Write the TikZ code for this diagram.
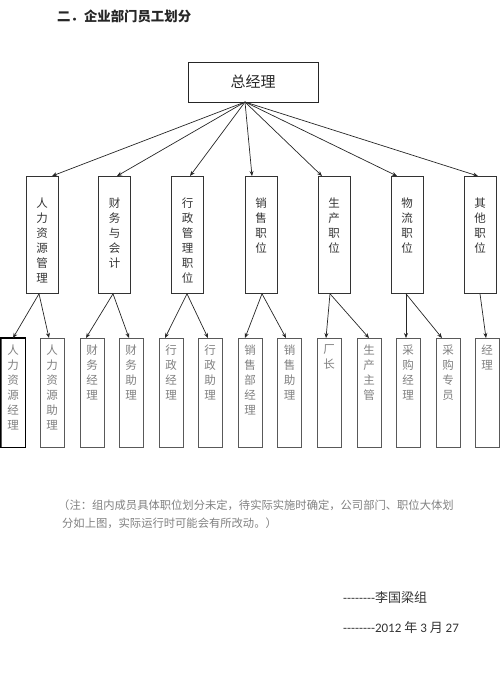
\documentclass[tikz,border=0pt]{standalone}
\usepackage{fontspec}
\setmainfont{Noto Sans CJK SC}
\newfontfamily\carl{Carlito}
\usetikzlibrary{arrows.meta}
\newcommand\dd{-\kern0pt}
\newcommand\ddd{\dd\dd\dd\dd\dd\dd\dd\dd}
\begin{document}
\begin{tikzpicture}[x=1pt,y=-1pt,
  topbox/.style={draw=black!85, line width=0.9pt, minimum width=130pt, minimum height=40pt, inner sep=0pt, font=\fontsize{15}{18}\selectfont, text=black!85},
  midbox/.style={draw=black!80, line width=0.8pt, minimum width=32pt, minimum height=117pt, inner sep=0pt, anchor=north},
  botbox/.style={draw=black!65, line width=0.8pt, minimum width=24pt, minimum height=109pt, inner sep=0pt, anchor=north},
  midtxt/.style={anchor=north, inner sep=0pt, align=center, text=black!80, font=\fontsize{11.5}{15}\selectfont},
  bottxt/.style={anchor=north, inner sep=0pt, align=center, text=black!50, font=\fontsize{11.5}{15}\selectfont},
  arr/.style={-{Stealth[length=5pt,width=4pt]}, line width=0.7pt, draw=black!85},
  notetxt/.style={anchor=west, inner sep=0pt, text=black!50, font=\fontsize{11.3}{14}\selectfont},
  sigtxt/.style={anchor=west, inner sep=0pt, text=black!80, font=\fontsize{13}{15}\selectfont}
]
\useasboundingbox (0,0) rectangle (500,681);

\node[anchor=west, inner sep=0pt, font=\fontsize{13.4}{15}\selectfont\bfseries, text=black!85] (title) at (57,16) {二．企业部门员工划分};

\node[topbox] (top) at (253,82) {总经理};
\coordinate (o) at (245,102);

% middle level
\foreach \i/\x/\t in {1/42/{人\\力\\资\\源\\管\\理},2/114.5/{财\\务\\与\\会\\计},3/187.5/{行\\政\\管\\理\\职\\位},4/261/{销\\售\\职\\位},5/334/{生\\产\\职\\位},6/407/{物\\流\\职\\位},7/480/{其\\他\\职\\位}}{
  \node[midbox] (m\i) at (\x,176) {};
  \node[midtxt] (mt\i) at (\x,197.5) {\t};
}

% bottom level
\foreach \i/\x/\t in {1/13/{人\\力\\资\\源\\经\\理},2/52/{人\\力\\资\\源\\助\\理},3/92/{财\\务\\经\\理},4/131/{财\\务\\助\\理},5/171/{行\\政\\经\\理},6/210/{行\\政\\助\\理},7/250/{销\\售\\部\\经\\理},8/289.5/{销\\售\\助\\理},9/329/{厂\\长},10/369/{生\\产\\主\\管},11/408/{采\\购\\经\\理},12/448/{采\\购\\专\\员},13/487/{经\\理}}{
  \node[botbox] (b\i) at (\x,338) {};
  \node[bottxt] (bt\i) at (\x,344.5) {\t};
}
\draw[black, line width=1.3pt] (b1.north west) rectangle (b1.south east);

% arrows top -> middle
\draw[arr] (o) -- ([xshift=10pt]m1.north);
\draw[arr] (o) -- ([xshift=2.5pt]m2.north);
\draw[arr] (o) -- ([xshift=2.5pt]m3.north);
\draw[arr] (o) -- ([xshift=-9pt]m4.north);
\draw[arr] (o) -- ([xshift=-12pt]m5.north);
\draw[arr] (o) -- ([xshift=-10pt]m6.north);
\draw[arr] (o) -- ([xshift=-2pt]m7.north);

% arrows middle -> bottom
\draw[arr] ([xshift=-3pt]m1.south) -- (b1.north);
\draw[arr] ([xshift=-3pt]m1.south) -- ([xshift=-3pt]b2.north);
\draw[arr] ([xshift=-1.5pt]m2.south) -- ([xshift=-6pt]b3.north);
\draw[arr] ([xshift=-1.5pt]m2.south) -- ([xshift=-2pt]b4.north);
\draw[arr] ([xshift=-0.5pt]m3.south) -- ([xshift=-6pt]b5.north);
\draw[arr] ([xshift=-0.5pt]m3.south) -- ([xshift=-2pt]b6.north);
\draw[arr] ([xshift=1pt]m4.south) -- ([xshift=-5pt]b7.north);
\draw[arr] ([xshift=1pt]m4.south) -- ([xshift=-3.5pt]b8.north);
\draw[arr] ([xshift=-4pt]m5.south) -- ([xshift=-3pt]b9.north);
\draw[arr] ([xshift=-4pt]m5.south) -- (b10.north);
\draw[arr] ([xshift=-1pt]m6.south) -- ([xshift=-2pt]b11.north);
\draw[arr] ([xshift=-1pt]m6.south) -- ([xshift=-6pt]b12.north);
\draw[arr] (m7.south) -- ([xshift=-1pt]b13.north);

% note
\node[notetxt] (n1) at (58,505) {（注：组内成员具体职位划分未定，待实际实施时确定，公司部门、职位大体划};
\node[notetxt] (n2) at (62,523) {分如上图，实际运行时可能会有所改动。）};

% signature
\node[sigtxt] (s1) at (343,598) {{\carl\ddd}李国梁组};
\node[sigtxt] (s2) at (343,628) {{\carl\ddd 2012 }年{\carl\ 3 }月{\carl\ 27}};
\end{tikzpicture}
\end{document}
